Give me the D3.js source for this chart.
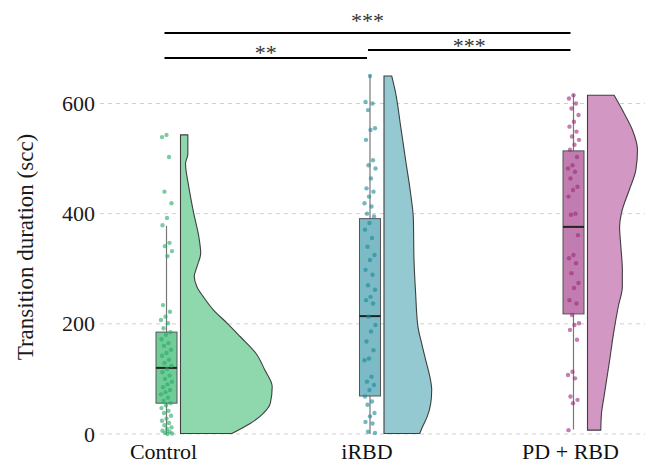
<!DOCTYPE html>
<html><head><meta charset="utf-8">
<script src="https://cdn.jsdelivr.net/npm/d3@7"></script>
<style>html,body{margin:0;padding:0;background:#fff;}svg{display:block;}</style>
</head><body>
<svg id="c" width="649" height="466"></svg>
<script>
// ---------- data ----------
const categories = ["Control", "iRBD", "PD + RBD"];
const yTicks = [0, 200, 400, 600];

const controlPoints = [543,539,503,440,419,392,379,347,341,332,323,234,222,213,207,201,192,185,180,172,165,160,153,147,142,135,129,124,118,112,106,100,95,90,85,80,76,72,66,60,56,52,47,42,38,33,28,24,20,16,12,9,6,4,2,1,0];
const irbdPoints = [650,603,600,588,555,552,534,497,488,482,464,446,440,431,419,413,400,395,383,371,356,340,325,316,298,289,270,262,249,243,237,213,198,186,168,152,137,134,104,95,89,80,68,59,53,38,32,22,19,4,2];
const pdPoints = [615,609,600,591,579,567,558,549,540,534,525,516,503,488,482,476,464,449,443,431,400,398,361,325,319,310,292,274,265,243,237,216,201,198,189,171,113,107,101,68,62,56,7];

// box stats: [whiskerLow, q1, median, q3, whiskerHigh]
const controlBox = [0, 56, 120, 185, 378];
const irbdBox = [0, 69, 214, 391, 652];
const pdBox = [8, 218, 376, 514, 617];

// half-violin density outlines: [value, relative density]
const controlDensity = [[543,0.08],[508,0.08],[491,0.055],[449,0.09],[400,0.145],[358,0.2],[328,0.22],[304,0.18],[286,0.15],[267,0.18],[249,0.25],[225,0.36],[201,0.51],[177,0.65],[147,0.82],[116,0.92],[86,1.0],[56,0.98],[37,0.9],[19,0.76],[1,0.56]];
const irbdDensity = [[650,0.084],[619,0.127],[558,0.182],[497,0.236],[437,0.29],[391,0.32],[316,0.327],[255,0.345],[195,0.37],[165,0.41],[134,0.455],[104,0.50],[80,0.52],[56,0.51],[31,0.47],[13,0.42],[1,0.39]];
const pdDensity = [[615,0.29],[582,0.40],[552,0.49],[516,0.545],[479,0.527],[443,0.455],[401,0.37],[376,0.35],[340,0.364],[298,0.38],[268,0.38],[231,0.335],[189,0.29],[128,0.236],[68,0.18],[38,0.153],[7,0.145]];

// significance comparisons
const sigFrom = ["Control", "Control", "iRBD"];
const sigTo = ["PD + RBD", "iRBD", "PD + RBD"];
const sigLabel = ["***", "**", "***"];

// ---------- styling ----------
const groups = [
  {name:"Control", pts:controlPoints, box:controlBox, dens:controlDensity, violin:"#8fd8ae", boxFill:"#72cc98", point:"#27a866"},
  {name:"iRBD", pts:irbdPoints, box:irbdBox, dens:irbdDensity, violin:"#95c9d1", boxFill:"#7cbbc5", point:"#17889a"},
  {name:"PD + RBD", pts:pdPoints, box:pdBox, dens:pdDensity, violin:"#d397c4", boxFill:"#c17cb0", point:"#9c2a7c"}
];

const svg = d3.select("#c");
const font = "'Liberation Serif','Times New Roman',serif";

const x = d3.scalePoint().domain(categories).range([166.5, 573.5]);
const y = d3.scaleLinear().domain([0, 600]).range([434, 103.5]);
const w = d3.scaleLinear().domain([0, 1]).range([0, 91.7]);

// gridlines
svg.append("g").selectAll("line").data(yTicks).join("line")
  .attr("x1", 100).attr("x2", 645)
  .attr("y1", d => y(d)).attr("y2", d => y(d))
  .attr("stroke", "#cfcfcf").attr("stroke-width", 1).attr("stroke-dasharray", "4,4");

// y axis
const yAxis = svg.append("g").attr("transform", "translate(98,0)")
  .call(d3.axisLeft(y).tickValues(yTicks).tickSize(0).tickPadding(3));
yAxis.select(".domain").remove();
yAxis.selectAll("text").attr("font-family", font).attr("font-size", 22).attr("fill", "#1a1a1a");

// y title
svg.append("text").attr("transform", "translate(33,247) rotate(-90)")
  .attr("text-anchor", "middle").attr("font-family", font).attr("font-size", 23).attr("fill", "#1a1a1a")
  .text("Transition duration (scc)");

// x labels
svg.append("g").selectAll("text").data(categories).join("text")
  .attr("x", d => x(d) - 3).attr("y", 459)
  .attr("text-anchor", "middle").attr("font-family", font).attr("font-size", 22).attr("fill", "#111")
  .text(d => d);

const boxHalf = 10.5;
const violinOffset = 14;

groups.forEach(g => {
  const cx = x(g.name);
  const left = cx + violinOffset;
  const area = d3.area()
    .y(d => y(d[0]))
    .x0(left)
    .x1(d => left + w(d[1]))
    .curve(d3.curveMonotoneY);
  svg.append("path").datum(g.dens).attr("d", area)
    .attr("fill", g.violin).attr("stroke", "#3f3f3f").attr("stroke-width", 1.1);

  svg.append("line").attr("x1", cx).attr("x2", cx)
    .attr("y1", y(g.box[0])).attr("y2", y(g.box[4]))
    .attr("stroke", "#777").attr("stroke-width", 1.2);
  svg.append("rect").attr("x", cx - boxHalf).attr("width", boxHalf * 2)
    .attr("y", y(g.box[3])).attr("height", y(g.box[1]) - y(g.box[3]))
    .attr("fill", g.boxFill).attr("stroke", "#555").attr("stroke-width", 1);
  svg.append("line").attr("x1", cx - boxHalf).attr("x2", cx + boxHalf)
    .attr("y1", y(g.box[2])).attr("y2", y(g.box[2]))
    .attr("stroke", "#222").attr("stroke-width", 2);
  svg.append("g").selectAll("circle").data(g.pts).join("circle")
    .attr("cx", (d, i) => cx + (((i * 37 + 11) % 23) / 22 - 0.5) * 11)
    .attr("cy", d => y(d))
    .attr("r", 2.2)
    .attr("fill", g.point).attr("fill-opacity", 0.6);
});

// significance bars
const barY = [33, 58, 50];
const textY = [28, 60, 53];
const sig = svg.append("g");
sigFrom.forEach((f, i) => {
  const x1 = x(f) - 2, x2 = x(sigTo[i]) - 3;
  sig.append("line").attr("x1", x1).attr("x2", x2).attr("y1", barY[i]).attr("y2", barY[i])
    .attr("stroke", "#000").attr("stroke-width", 2.2);
  sig.append("text").attr("x", (x1 + x2) / 2).attr("y", textY[i])
    .attr("text-anchor", "middle").attr("font-family", font).attr("font-size", 22).attr("fill", "#333")
    .text(sigLabel[i]);
});
</script>
</body></html>
